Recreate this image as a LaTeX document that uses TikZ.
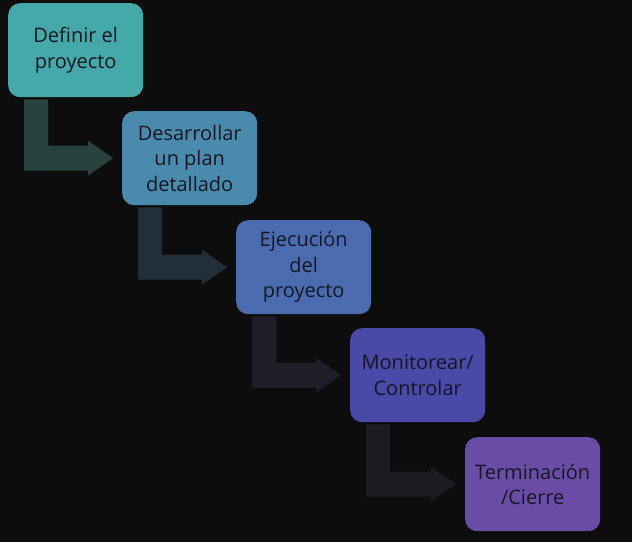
\documentclass[tikz,border=0pt]{standalone}
\usepackage{fontspec}
\setmainfont{Open Sans}
\usetikzlibrary{calc}
\definecolor{bg}{HTML}{0D0D0D}
\definecolor{cA}{HTML}{45A9A9}
\definecolor{cB}{HTML}{4A8BAD}
\definecolor{cC}{HTML}{4A6BAF}
\definecolor{cD}{HTML}{4949A8}
\definecolor{cE}{HTML}{6A4CA6}
\definecolor{aA}{HTML}{27423F}
\definecolor{aB}{HTML}{222E38}
\definecolor{aC}{HTML}{1F1F2A}
\definecolor{aD}{HTML}{1D1A21}
\definecolor{txt}{HTML}{161622}
\tikzset{
  stepbox/.style={rounded corners=12pt, minimum width=135pt, minimum height=94pt,
    inner sep=0pt, align=center, text=txt, font=\fontsize{20}{25.5}\selectfont, anchor=north west},
}
\newcommand{\bentarrow}[3]{%
  \fill[#3] let \p1=(#1.south west), \p2=(#2.west) in
    (\x1+16pt,\y1-2pt) -- (\x1+40pt,\y1-2pt) -- (\x1+40pt,\y2+12.5pt)
    -- (\x2-34pt,\y2+12.5pt) -- (\x2-34pt,\y2+17.5pt) -- (\x2-9pt,\y2)
    -- (\x2-34pt,\y2-17.5pt) -- (\x2-34pt,\y2-12.5pt) -- (\x1+16pt,\y2-12.5pt) -- cycle;}
\begin{document}
\begin{tikzpicture}[x=1pt,y=-1pt]
\fill[bg] (0,0) rectangle (632,542);
\useasboundingbox (0,0) rectangle (632,542);
\node[stepbox, fill=cA] (b1) at (8,3) {Definir el\\proyecto};
\node[stepbox, fill=cB] (b2) at (122,111) {Desarrollar\\un plan\\detallado};
\node[stepbox, fill=cC] (b3) at (236,220) {Ejecución\\del\\proyecto};
\node[stepbox, fill=cD] (b4) at (350,328) {Monitorear/\\Controlar};
\node[stepbox, fill=cE] (b5) at (465,437) {Terminación\\/Cierre};
\bentarrow{b1}{b2}{aA}
\bentarrow{b2}{b3}{aB}
\bentarrow{b3}{b4}{aC}
\bentarrow{b4}{b5}{aD}
\end{tikzpicture}
\end{document}
